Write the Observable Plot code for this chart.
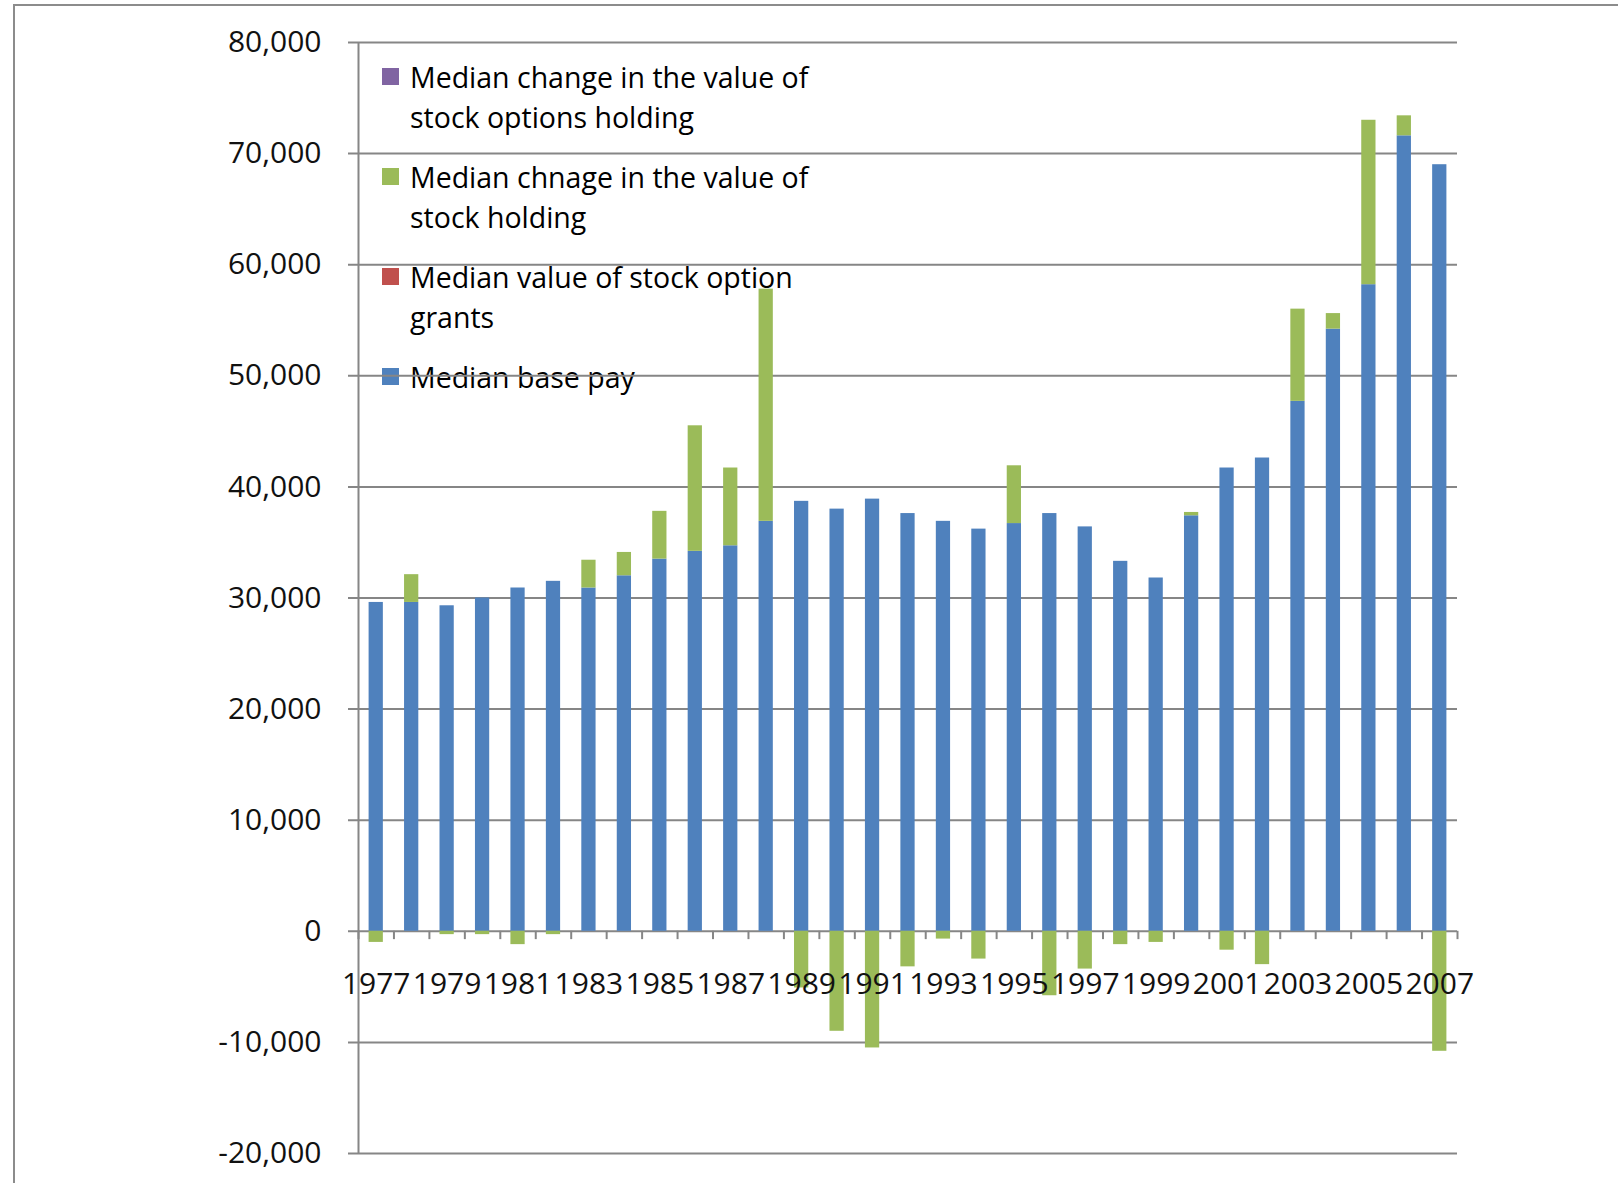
<!DOCTYPE html>
<html>
<head>
<meta charset="utf-8">
<script src="https://cdn.jsdelivr.net/npm/d3@7"></script>
<script src="https://cdn.jsdelivr.net/npm/@observablehq/plot@0.6"></script>
<style>
html,body{margin:0;padding:0;background:#fff;overflow:hidden;}
#wrap{position:relative;width:1618px;height:1183px;overflow:hidden;font-family:"Open Sans",sans-serif;}
#frame{position:absolute;left:13px;top:4px;width:1800px;height:1400px;border-left:2px solid #8c8c8c;border-top:2px solid #8c8c8c;}
#legend{position:absolute;left:382px;top:0;}
.item{position:absolute;left:0;white-space:nowrap;font-size:28.5px;line-height:40px;color:#000;}
.sw{position:absolute;left:0;width:17px;height:17px;}
.lbl{position:absolute;left:28px;top:0;}
#chart{position:absolute;left:0;top:0;}
</style>
</head>
<body>
<div id="wrap"><div id="frame"></div><div id="legend"></div><div id="chart"></div></div>
<script>
// ---- data ----
const years = [1977,1978,1979,1980,1981,1982,1983,1984,1985,1986,1987,1988,1989,1990,1991,1992,1993,1994,1995,1996,1997,1998,1999,2000,2001,2002,2003,2004,2005,2006,2007];
const basePay = [29600,29600,29300,30000,30900,31500,30900,32000,33500,34200,34700,36900,38700,38000,38900,37600,36900,36200,36700,37600,36400,33300,31800,37400,41700,42600,47700,54200,58200,71600,69000];
const optionGrants = [0,0,0,0,0,0,0,0,0,0,0,0,0,0,0,0,0,0,0,0,0,0,0,0,0,0,0,0,0,0,0];
const stockHoldingChange = [-1000,2500,-300,-300,-1200,-300,2500,2100,4300,11300,7000,20900,-5100,-9000,-10500,-3200,-700,-2500,5200,-5800,-3400,-1200,-1000,300,-1700,-3000,8300,1400,14800,1800,-10800];
const optionsHoldingChange = [0,0,0,0,0,0,0,0,0,0,0,0,0,0,0,0,0,0,0,0,0,0,0,0,0,0,0,0,0,0,0];
const seriesNames = ["Median change in the value of stock options holding","Median chnage in the value of stock holding","Median value of stock option grants","Median base pay"];
const legendLines = [["Median change in the value of","stock options holding"],["Median chnage in the value of","stock holding"],["Median value of stock option","grants"],["Median base pay"]];
const seriesColors = ["#8064A2","#9BBB59","#C0504D","#4F81BD"];
const yTicks = [-20000,-10000,0,10000,20000,30000,40000,50000,60000,70000,80000];

// ---- stacking (Excel style: positives up from base, negatives down from 0) ----
const rows = [];
years.forEach((yr, i) => {
  rows.push({year: yr, series: seriesNames[3], y1: 0, y2: basePay[i]});
  let top = basePay[i], bottom = 0;
  [[seriesNames[2], optionGrants],[seriesNames[1], stockHoldingChange],[seriesNames[0], optionsHoldingChange]].forEach(([name, arr]) => {
    const v = arr[i];
    if (v === 0) return;
    if (v > 0) { rows.push({year: yr, series: name, y1: top, y2: top + v}); top += v; }
    else { rows.push({year: yr, series: name, y1: bottom, y2: bottom + v}); bottom += v; }
  });
});
const boundaries = years.concat([years[years.length-1] + 1]);
const labelYears = years.filter(y => y % 2 === 1);
const fmt = d => d.toLocaleString("en-US");
const grid = "#868686";

const chart = Plot.plot({
  width: 1618, height: 1183,
  marginLeft: 358, marginRight: 161, marginTop: 42, marginBottom: 30,
  x: {type: "linear", domain: [years[0], years[years.length-1] + 1], axis: null},
  y: {domain: [-20000, 80000], axis: null},
  color: {domain: seriesNames, range: seriesColors},
  style: {fontFamily: "'Open Sans', sans-serif", background: "transparent"},
  marks: [
    Plot.ruleY(yTicks, {stroke: grid, strokeWidth: 2, insetLeft: -10}),
    Plot.ruleX([years[0]], {stroke: grid, strokeWidth: 2}),
    Plot.ruleX(boundaries, {x: d => d, y1: 0, y2: -750, stroke: grid, strokeWidth: 2}),
    Plot.rect(rows, {x1: "year", x2: d => d.year + 1, y1: "y1", y2: "y2", fill: "series", insetLeft: 10.6, insetRight: 10.6}),
    Plot.text(yTicks, {x: years[0], y: d => d, text: fmt, textAnchor: "end", dx: -37, fontSize: 30, fill: "#111"}),
    Plot.text(labelYears, {x: d => d + 0.5, y: 0, dy: 53, text: d => String(d), fontSize: 30, fill: "#111"})
  ]
});
document.getElementById("chart").appendChild(chart);

// ---- legend (transparent, inside plot area, reversed order like Excel) ----
const legend = document.getElementById("legend");
const entryCenters = [77, 177, 277, 377];
seriesNames.forEach((name, i) => {
  const item = document.createElement("div");
  item.className = "item";
  item.style.top = (entryCenters[i] - 20) + "px";
  const sw = document.createElement("div");
  sw.className = "sw";
  sw.style.background = seriesColors[i];
  sw.style.top = "11px";
  item.appendChild(sw);
  const lbl = document.createElement("div");
  lbl.className = "lbl";
  lbl.innerHTML = legendLines[i].join("<br>");
  item.appendChild(lbl);
  legend.appendChild(item);
});
</script>
</body>
</html>
